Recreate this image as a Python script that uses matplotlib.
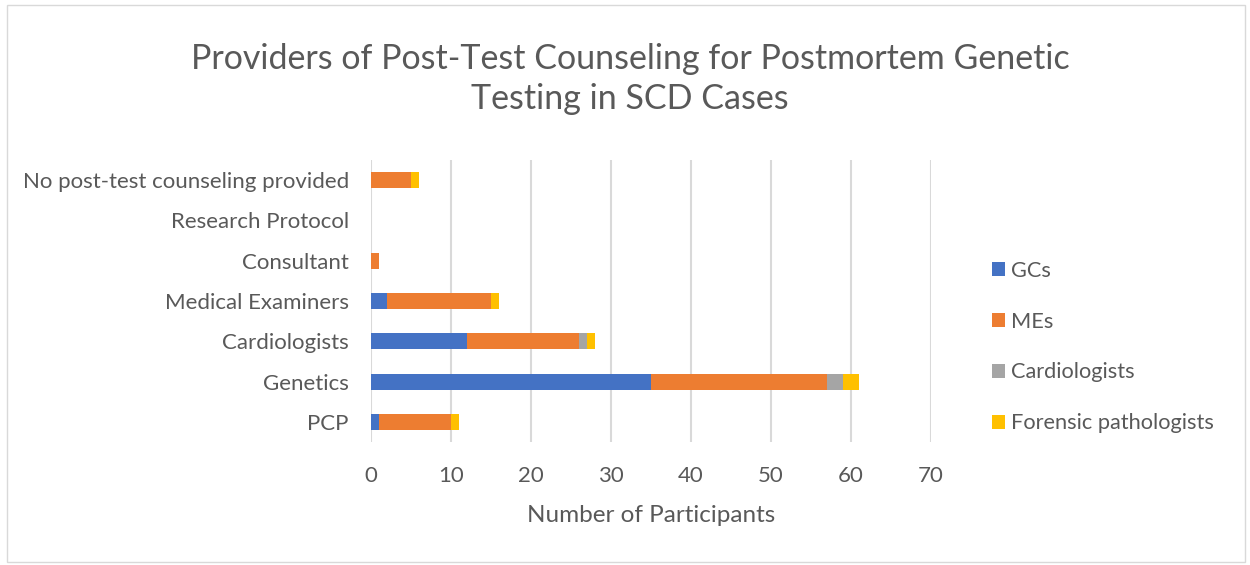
import matplotlib
matplotlib.use("Agg")
import matplotlib.pyplot as plt
from matplotlib.patches import Rectangle

categories = ["PCP", "Genetics", "Cardiologists", "Medical Examiners",
              "Consultant", "Research Protocol", "No post-test counseling provided"]
series_names = ["GCs", "MEs", "Cardiologists", "Forensic pathologists"]
gcs = [1, 35, 12, 2, 0, 0, 0]
mes = [9, 22, 14, 13, 1, 0, 5]
cards = [0, 2, 1, 0, 0, 0, 0]
fps = [1, 2, 1, 1, 0, 0, 1]
colors = ["#4472C4", "#ED7D31", "#A5A5A5", "#FFC000"]
xticks = [0, 10, 20, 30, 40, 50, 60, 70]
text_color = '#595959'

plt.rcParams['font.family'] = ['Lato', 'DejaVu Sans']
fig = plt.figure(figsize=(12.5, 5.65), dpi=100)
ax = fig.add_axes([371/1250, 1-442/565, 560/1250, 282/565])

ypos = list(range(len(categories)))
left = [0]*len(categories)
for name, vals, c in zip(series_names, [gcs, mes, cards, fps], colors):
    ax.barh(ypos, vals, left=left, height=0.4, color=c, label=name, zorder=3)
    left = [l + v for l, v in zip(left, vals)]

ax.set_xlim(0, 70)
ax.set_ylim(-0.5, len(categories)-0.5)
ax.set_xticks(xticks)
ax.set_yticks(ypos)
ax.set_yticklabels(categories)
ax.grid(axis='x', color='#D9D9D9', linewidth=1.5, zorder=0)
for s in ax.spines.values():
    s.set_visible(False)
ax.tick_params(length=0, labelsize=16, colors=text_color)
ax.tick_params(axis='y', pad=16)
ax.tick_params(axis='x', pad=17)
ax.set_xlabel("Number of Participants", fontsize=17.5, color=text_color, labelpad=14)

fig.text(630/1250, 1-79/565, "Providers of Post-Test Counseling for Postmortem Genetic\nTesting in SCD Cases",
         ha='center', va='center', fontsize=24.5, color=text_color, linespacing=1.3)

handles, labels = ax.get_legend_handles_labels()
leg = fig.legend(handles, labels, loc='center left', bbox_to_anchor=(972/1250, 1-347/565),
                 frameon=False, fontsize=15.7, labelspacing=1.42, handlelength=0.6,
                 handleheight=0.6, handletextpad=0.3, labelcolor=text_color)

fig.patches.append(Rectangle((7/1250, 0.005), 1238/1250, 1-0.005-5/565, transform=fig.transFigure,
                             fill=False, edgecolor='#D9D9D9', linewidth=1))
fig.savefig("out.png", dpi=100)
